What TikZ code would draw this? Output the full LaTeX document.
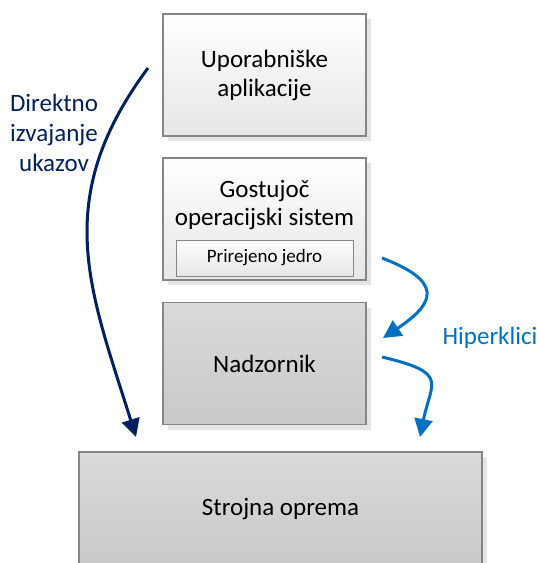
\documentclass[tikz,border=0pt]{standalone}
\usepackage{fontspec}
\setmainfont{Carlito}
\usetikzlibrary{arrows.meta,shadows}
\definecolor{frame}{HTML}{858585}
\definecolor{navy}{HTML}{002060}
\definecolor{hcall}{HTML}{0070C0}
\definecolor{lighttop}{HTML}{FFFFFF}
\definecolor{lightbot}{HTML}{E6E6E6}
\definecolor{darktop}{HTML}{DADADA}
\definecolor{darkbot}{HTML}{C9C9C9}
\begin{document}
\begin{tikzpicture}[x=1pt,y=-1pt,
  box/.style={draw=frame,line width=1.3pt,minimum width=203pt,minimum height=122pt,
    align=center,font=\fontsize{25}{29}\selectfont,
    drop shadow={shadow xshift=5pt,shadow yshift=-5pt,fill=black!10,opacity=1}},
  lightbox/.style={box,top color=lighttop,bottom color=lightbot},
  darkbox/.style={box,top color=darktop,bottom color=darkbot},
  kernelbox/.style={draw=frame,line width=1pt,minimum width=177pt,minimum height=36pt,
    top color=white,bottom color=lightbot,font=\fontsize{19}{19}\selectfont},
  direct/.style={draw=navy,line width=3pt,-{Triangle[length=18pt,width=18pt]}},
  hyper/.style={draw=hcall,line width=3pt,-{Triangle[length=18pt,width=18pt]}}]
\clip (0,0) rectangle (537,563);
% plasti
\node[lightbox] (apps) at(264.5,75){Uporabniške\\aplikacije};
\node[lightbox] (guest) at(264.5,219){};
\node[align=center,font=\fontsize{25}{28}\selectfont] (guestlbl) at(264.5,205){Gostujoč\\operacijski sistem};
\node[kernelbox] (kernel) at(264.5,258){Prirejeno jedro};
\node[darkbox] (hyp) at(264.5,363.5){Nadzornik};
\node[darkbox,minimum width=403pt,minimum height=114pt] (hw) at(280.5,509){Strojna oprema};
% oznake
\node[align=center,text=navy,font=\fontsize{25}{30}\selectfont] (directlbl) at(54,133){Direktno\\izvajanje\\ukazov};
\node[text=hcall,font=\fontsize{25}{30}\selectfont] (hyperlbl) at(490,338){Hiperklici};
% puscice
\coordinate (d1) at(148,68);
\coordinate (d2) at(136,437);
\coordinate (h1) at(382,258);
\coordinate (h2) at(383,338);
\coordinate (h3) at(382,357);
\coordinate (h4) at(420,437);
\draw[direct] (d1) .. controls (50,200) and (90,290) .. (d2);
\draw[hyper] (h1) .. controls (442,281) and (437,302) .. (h2);
\draw[hyper] (h3) .. controls (450,373) and (431,382) .. (h4);
\end{tikzpicture}
\end{document}
